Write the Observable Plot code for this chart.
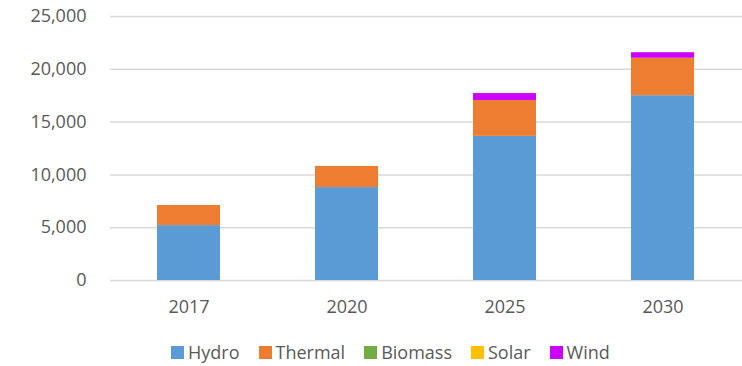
<!DOCTYPE html>
<html>
<head>
<meta charset="utf-8">
<script src="https://cdn.jsdelivr.net/npm/d3@7"></script>
<script src="https://cdn.jsdelivr.net/npm/@observablehq/plot@0.6"></script>
<style>
  html, body { margin: 0; padding: 0; background: #fff; }
  #chart { position: relative; width: 742px; height: 366px; font-family: "Open Sans", sans-serif; }
  #legend { position: absolute; left: 171px; top: 340px; display: flex; align-items: center; font-size: 18px; color: #595959; white-space: nowrap; }
  .item { display: flex; align-items: center; margin-right: 19px; }
  .sw { width: 13px; height: 13px; margin-right: 4px; }
</style>
</head>
<body>
<div id="chart"></div>
<script>
const years = ["2017", "2020", "2025", "2030"];
const seriesNames = ["Hydro", "Thermal", "Biomass", "Solar", "Wind"];
const colors = ["#5b9bd5", "#ed7d31", "#70ad47", "#ffc000", "#cc00ff"];
const hydro   = [5200, 8800, 13650, 17500];
const thermal = [1900, 2000, 3400, 3550];
const biomass = [0, 0, 0, 0];
const solar   = [0, 0, 0, 0];
const wind    = [0, 0, 650, 520];
const yTicks  = [0, 5000, 10000, 15000, 20000, 25000];

const seriesValues = [hydro, thermal, biomass, solar, wind];
const data = [];
seriesNames.forEach((s, i) => years.forEach((y, j) => data.push({year: y, series: s, value: seriesValues[i][j]})));

const plot = Plot.plot({
  width: 742,
  height: 330,
  marginLeft: 110,
  marginRight: 0,
  marginTop: 16,
  marginBottom: 50,
  style: {fontFamily: "Open Sans, sans-serif", fontSize: "18px", color: "#595959", background: "#fff"},
  x: {domain: years, paddingInner: 0.6, paddingOuter: 0.3, label: null},
  y: {domain: [0, 25000], label: null},
  color: {domain: seriesNames, range: colors},
  marks: [
    Plot.ruleY(yTicks, {stroke: "#d9d9d9", strokeWidth: 1.5}),
    Plot.barY(data, Plot.stackY({order: null}, {x: "year", y: "value", z: "series", fill: "series"})),
    Plot.axisY(yTicks, {tickSize: 0, tickPadding: 24, tickFormat: d3.format(","), label: null, fill: "#595959"}),
    Plot.axisX({tickSize: 0, tickPadding: 20, label: null, fill: "#595959"})
  ]
});
const chart = document.getElementById("chart");
chart.appendChild(plot);

const legend = document.createElement("div");
legend.id = "legend";
seriesNames.forEach((s, i) => {
  const it = document.createElement("div");
  it.className = "item";
  const sw = document.createElement("span");
  sw.className = "sw";
  sw.style.background = colors[i];
  const t = document.createElement("span");
  t.textContent = s;
  it.appendChild(sw); it.appendChild(t);
  legend.appendChild(it);
});
chart.appendChild(legend);
</script>
</body>
</html>
